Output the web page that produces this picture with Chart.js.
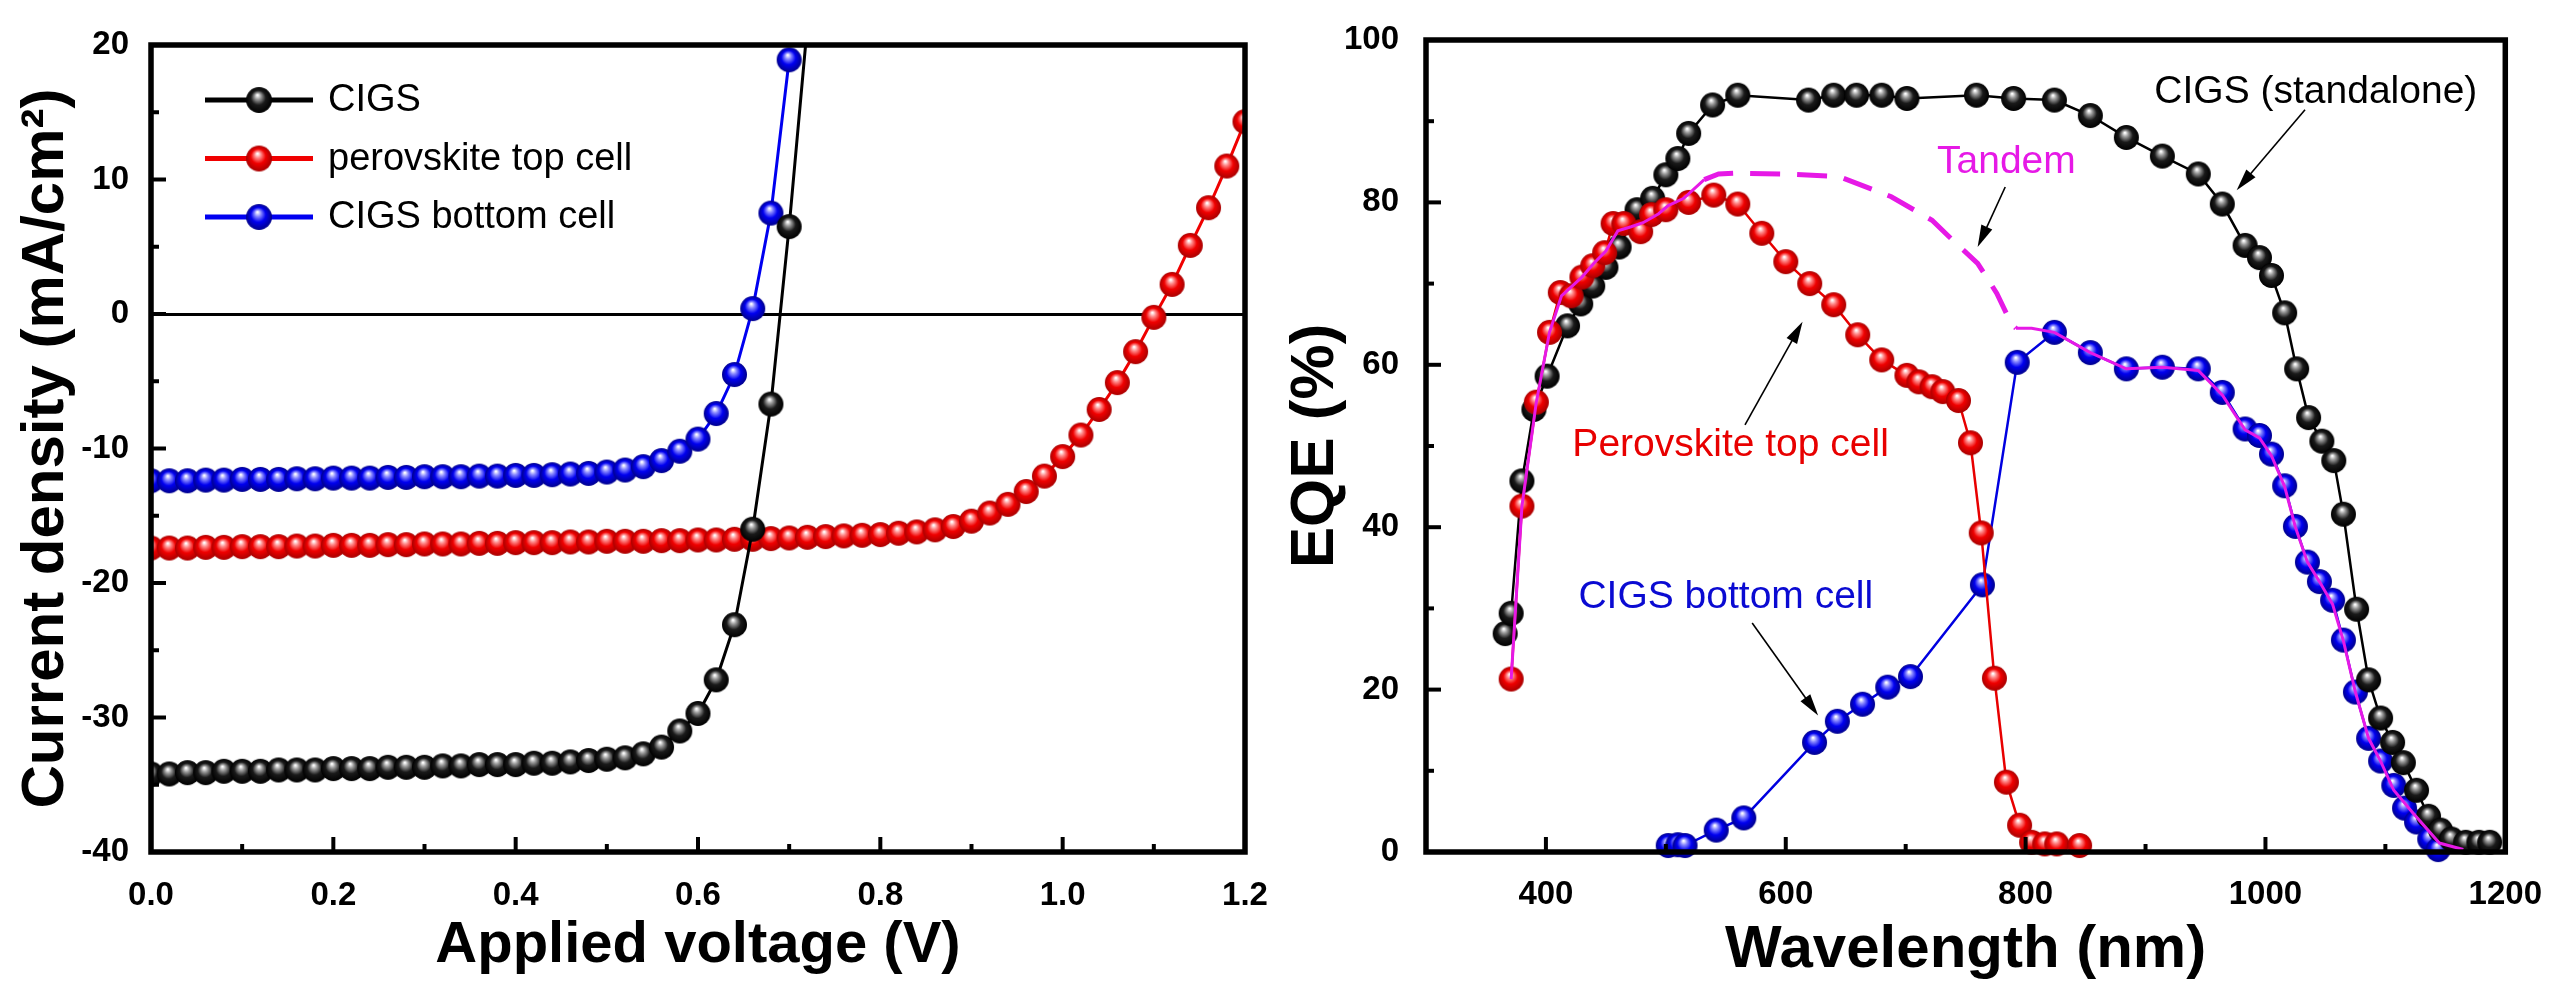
<!DOCTYPE html>
<html>
<head>
<meta charset="utf-8">
<script src="https://cdn.jsdelivr.net/npm/chart.js@4.4.1/dist/chart.umd.min.js"></script>
<style>
  html, body { margin: 0; padding: 0; background: #fff; }
  #wrap { position: relative; width: 2557px; height: 989px; }
  canvas { position: absolute; top: 0; }
</style>
</head>
<body>
<div id="wrap">
  <canvas id="jv" width="1290" height="989" style="left:0"></canvas>
  <canvas id="eqe" width="1287" height="989" style="left:1270px"></canvas>
</div>
<script>
// ---- J-V data (left panel) ----
const voltage = [0.00,0.02,0.04,0.06,0.08,0.10,0.12,0.14,0.16,0.18,0.20,0.22,0.24,0.26,0.28,0.30,0.32,0.34,0.36,0.38,
  0.40,0.42,0.44,0.46,0.48,0.50,0.52,0.54,0.56,0.58,0.60,0.62,0.64,0.66,0.68,0.70,0.72,0.74,0.76,0.78,
  0.80,0.82,0.84,0.86,0.88,0.90,0.92,0.94,0.96,0.98,1.00,1.02,1.04,1.06,1.08,1.10,1.12,1.14,1.16,1.18,1.20];
const jCIGS = [-34.2,-34.2,-34.1,-34.1,-34.0,-34.0,-34.0,-33.9,-33.9,-33.9,-33.8,-33.8,-33.8,-33.7,-33.7,-33.7,
  -33.6,-33.6,-33.5,-33.5,-33.5,-33.4,-33.4,-33.3,-33.2,-33.1,-33.0,-32.7,-32.2,-31.0,-29.7,-27.2,-23.1,-16.0,-6.7,6.5,21.5];
const jPerovskite = [-17.4,-17.4,-17.4,-17.35,-17.35,-17.3,-17.3,-17.3,-17.25,-17.25,
  -17.2,-17.2,-17.2,-17.15,-17.15,-17.1,-17.1,-17.1,-17.05,-17.05,
  -17.0,-17.0,-17.0,-16.95,-16.95,-16.9,-16.9,-16.9,-16.85,-16.85,
  -16.8,-16.8,-16.75,-16.75,-16.7,-16.65,-16.6,-16.55,-16.5,-16.45,
  -16.4,-16.3,-16.2,-16.05,-15.8,-15.4,-14.8,-14.15,-13.2,-12.05,
  -10.6,-9.0,-7.1,-5.1,-2.8,-0.25,2.2,5.1,7.9,11.0,14.3];
const jBottom = [-12.4,-12.4,-12.4,-12.35,-12.35,-12.3,-12.3,-12.3,-12.25,-12.25,
  -12.2,-12.2,-12.2,-12.15,-12.15,-12.1,-12.1,-12.1,-12.05,-12.05,
  -12.0,-12.0,-11.95,-11.9,-11.85,-11.75,-11.6,-11.35,-10.9,-10.2,-9.3,-7.4,-4.5,0.4,7.5,18.9];

const jvXTicks = [0,0.1,0.2,0.3,0.4,0.5,0.6,0.7,0.8,0.9,1.0,1.1,1.2];
const jvXMajor = [0,0.2,0.4,0.6,0.8,1.0,1.2];
const jvXLabels = ['0.0','0.2','0.4','0.6','0.8','1.0','1.2'];
const jvYTicks = [-40,-35,-30,-25,-20,-15,-10,-5,0,5,10,15,20];
const jvYMajor = [-40,-30,-20,-10,0,10,20];
const jvYLabels = ['-40','-30','-20','-10','0','10','20'];

// ---- EQE data (right panel) ----
const wlCIGS = [366,371,380,390,401,418,429,439,450,461,476,489,500,510,519,539,560,619,640,659,680,701,759,790,824,
  854,884,914,944,964,983,995,1005,1016,1026,1036,1047,1057,1065,1076,1086,1096,1106,1115,1126,1136,1146,1155,1167,1178,1187];
const eqeCIGS = [26.9,29.4,45.7,54.5,58.6,64.8,67.5,69.7,72.0,74.5,79.1,80.5,83.4,85.4,88.5,92.0,93.2,92.6,93.2,93.2,93.2,92.8,93.2,92.8,92.6,
  90.7,88.0,85.7,83.5,79.8,74.7,73.2,71.0,66.4,59.5,53.5,50.6,48.2,41.6,29.9,21.2,16.5,13.5,11.0,7.6,4.4,2.7,1.6,1.2,1.2,1.2];
const wlPerovskite = [371,380,392,403,412,421,430,439,449,456,465,479,488,500,519,540,560,580,600,620,640,660,680,701,711,
  722,731,744,754,763,774,784,795,805,816,826,845];
const eqePerovskite = [21.3,42.6,55.4,64.0,68.9,68.5,70.8,72.2,73.8,77.4,77.4,76.4,78.5,79.1,80.0,80.9,79.8,76.2,72.7,70.0,67.4,63.7,60.6,58.7,57.9,
  57.3,56.7,55.6,50.4,39.3,21.4,8.6,3.3,1.2,1.0,1.0,0.8];
const wlBottom = [502,510,516,542,565,624,643,664,685,704,764,793,824,854,884,914,944,964,983,995,1005,1016,1025,1035,1045,
  1056,1065,1075,1086,1096,1107,1116,1126,1137,1144];
const eqeBottom = [0.8,0.9,0.8,2.7,4.2,13.5,16.1,18.2,20.3,21.6,32.9,60.3,64.0,61.5,59.5,59.7,59.5,56.6,52.1,51.3,49.0,45.1,40.1,35.7,33.3,
  31.0,26.1,19.7,14.0,11.2,8.2,5.4,3.7,1.6,0.3];
const wlTandem = [371,380,392,403,413,430,440,450,460,471,481,494,502,515,532,544,560,600,644,674,688,722,736,760,776,
  788,792,805,824,854,884,914,944,964,983,995,1005,1016,1025,1035,1045,1056,1065,1075,1086,1096,1107,1123,1145,1165];
const eqeTandem = [21.3,42.6,55.4,64.0,68.5,70.8,72.5,74.0,76.5,77.0,77.5,78.6,79.6,80.5,82.8,83.5,83.6,83.5,83.2,81.5,80.7,77.8,75.8,72.5,68.8,
  65.1,64.5,64.5,64.0,61.5,59.5,59.7,59.3,56.3,52.0,51.0,48.8,45.0,40.0,35.7,33.3,30.5,26.0,19.7,14.0,11.2,7.6,4.8,1.1,0.3];

const eqeXTicks = [300,400,500,600,700,800,900,1000,1100,1200];
const eqeXMajor = [400,600,800,1000,1200];
const eqeXLabels = ['400','600','800','1000','1200'];
const eqeYTicks = [0,10,20,30,40,50,60,70,80,90,100];
const eqeYMajor = [0,20,40,60,80,100];
const eqeYLabels = ['0','20','40','60','80','100'];

const FONT = '"Liberation Sans", Arial, Helvetica, sans-serif';

const pts = (xs, ys) => ys.map((y, i) => ({ x: xs[i], y }));

function labelFor(majors, labels) {
  return v => {
    const i = majors.findIndex(m => Math.abs(m - v) < 1e-6);
    return i >= 0 ? labels[i] : '';
  };
}

// shaded "ball" markers like the original plot
function ball(r, light, mid, dark) {
  const s = Math.ceil(2 * r + 2);
  const c = document.createElement('canvas');
  c.width = s; c.height = s;
  const g = c.getContext('2d');
  const cx = s / 2, cy = s / 2;
  const grad = g.createRadialGradient(cx - r * 0.12, cy - r * 0.38, r * 0.04, cx, cy, r);
  grad.addColorStop(0, '#ffffff');
  grad.addColorStop(0.22, light);
  grad.addColorStop(0.55, mid);
  grad.addColorStop(1, dark);
  g.fillStyle = grad;
  g.beginPath();
  g.arc(cx, cy, r, 0, Math.PI * 2);
  g.fill();
  return c;
}

const R = 12.5;
const ballBlack = ball(R, '#9a9a9a', '#1a1a1a', '#000000');
const ballRed = ball(R, '#ff8a8a', '#f00000', '#a80000');
const ballBlue = ball(R, '#8a8aff', '#0000f0', '#00008c');

// frame + inward tick marks (bottom and left only)
const framePlugin = {
  id: 'frame',
  afterDraw(chart) {
    const { ctx, chartArea: a, scales: { x, y } } = chart;
    ctx.save();
    ctx.strokeStyle = '#000';
    ctx.lineWidth = 4;
    x.ticks.forEach(t => {
      const px = x.getPixelForValue(t.value);
      const len = t.label ? 15 : 8;
      ctx.beginPath(); ctx.moveTo(px, a.bottom); ctx.lineTo(px, a.bottom - len); ctx.stroke();
    });
    y.ticks.forEach(t => {
      const py = y.getPixelForValue(t.value);
      const len = t.label ? 15 : 8;
      ctx.beginPath(); ctx.moveTo(a.left, py); ctx.lineTo(a.left + len, py); ctx.stroke();
    });
    ctx.lineWidth = 5.5;
    ctx.strokeRect(a.left, a.top, a.right - a.left, a.bottom - a.top);
    ctx.restore();
  }
};

const jvLegendPlugin = {
  id: 'jvLegend',
  afterDraw(chart) {
    const { ctx, chartArea: a } = chart;
    ctx.save();
    ctx.font = '38px ' + FONT;
    ctx.textBaseline = 'middle';
    ctx.fillStyle = '#000';
    chart.data.datasets.forEach((ds, i) => {
      const yy = a.top + 55 + i * 58.5;
      ctx.strokeStyle = ds.borderColor;
      ctx.lineWidth = 5;
      ctx.beginPath(); ctx.moveTo(a.left + 54, yy); ctx.lineTo(a.left + 162, yy); ctx.stroke();
      ctx.drawImage(ds.pointStyle, a.left + 108 - 14, yy - 14, 28, 28);
      ctx.fillText(ds.label, a.left + 177, yy + 1);
    });
    ctx.restore();
  }
};

// text notes and arrows on the EQE panel (data coordinates)
const eqeNotes = [
  { text: 'CIGS (standalone)', color: '#000', x: 1042, y: 93.6 },
  { text: 'Tandem', color: '#e619e6', x: 784, y: 85.0 },
  { text: 'Perovskite top cell', color: '#e80000', x: 554, y: 50.1 },
  { text: 'CIGS bottom cell', color: '#0a0ad2', x: 550, y: 31.4 }
];
const eqeArrows = [
  { from: [1033, 91.4], to: [976, 81.5] },
  { from: [783, 81.9], to: [760, 74.5] },
  { from: [566, 52.6], to: [614, 65.3] },
  { from: [572, 28.2], to: [627, 16.8] }
];

const eqeNotesPlugin = {
  id: 'eqeNotes',
  afterDraw(chart) {
    const { ctx, scales: { x, y } } = chart;
    ctx.save();
    ctx.font = '39px ' + FONT;
    ctx.textAlign = 'center';
    ctx.textBaseline = 'middle';
    eqeNotes.forEach(n => {
      ctx.fillStyle = n.color;
      ctx.fillText(n.text, x.getPixelForValue(n.x), y.getPixelForValue(n.y));
    });
    ctx.strokeStyle = '#000';
    ctx.fillStyle = '#000';
    ctx.lineWidth = 1.6;
    eqeArrows.forEach(ar => {
      const x0 = x.getPixelForValue(ar.from[0]), y0 = y.getPixelForValue(ar.from[1]);
      const x1 = x.getPixelForValue(ar.to[0]), y1 = y.getPixelForValue(ar.to[1]);
      const ang = Math.atan2(y1 - y0, x1 - x0);
      const hl = 22, hw = 6;
      ctx.beginPath(); ctx.moveTo(x0, y0);
      ctx.lineTo(x1 - Math.cos(ang) * hl * 0.8, y1 - Math.sin(ang) * hl * 0.8); ctx.stroke();
      ctx.beginPath();
      ctx.moveTo(x1, y1);
      ctx.lineTo(x1 - Math.cos(ang) * hl + Math.sin(ang) * hw, y1 - Math.sin(ang) * hl - Math.cos(ang) * hw);
      ctx.lineTo(x1 - Math.cos(ang) * hl - Math.sin(ang) * hw, y1 - Math.sin(ang) * hl + Math.cos(ang) * hw);
      ctx.closePath(); ctx.fill();
    });
    ctx.restore();
  }
};

const tickFont = { family: FONT, size: 33, weight: 'bold' };
const titleFont = { family: FONT, size: 58, weight: 'bold' };

new Chart(document.getElementById('jv'), {
  type: 'line',
  data: {
    datasets: [
      { label: 'CIGS', data: pts(voltage, jCIGS), borderColor: '#000', borderWidth: 3,
        pointStyle: ballBlack, pointRadius: R },
      { label: 'perovskite top cell', data: pts(voltage, jPerovskite), borderColor: '#f00000', borderWidth: 3,
        pointStyle: ballRed, pointRadius: R },
      { label: 'CIGS bottom cell', data: pts(voltage, jBottom), borderColor: '#0000f0', borderWidth: 3,
        pointStyle: ballBlue, pointRadius: R },
    ],
  },
  options: {
    responsive: false,
    animation: false,
    events: [],
    layout: { padding: { top: 45, right: 45, left: 0, bottom: 0 } },
    plugins: { legend: { display: false }, tooltip: { enabled: false } },
    scales: {
      x: {
        type: 'linear', min: 0, max: 1.2,
        afterBuildTicks: s => { s.ticks = jvXTicks.map(v => ({ value: v })); },
        afterFit: s => { s.height = 137; },
        grid: { display: false },
        border: { display: false },
        ticks: { autoSkip: false, maxRotation: 0, padding: 16, color: '#000', font: tickFont,
          callback: labelFor(jvXMajor, jvXLabels) },
        title: { display: true, text: 'Applied voltage (V)', color: '#000', font: titleFont,
          padding: { top: 0, bottom: 8 } },
      },
      y: {
        type: 'linear', min: -40, max: 20,
        afterBuildTicks: s => { s.ticks = jvYTicks.map(v => ({ value: v })); },
        afterFit: s => { s.width = 151; },
        grid: { drawTicks: false, lineWidth: 3,
          color: c => (c.tick && c.tick.value === 0 ? '#000' : 'rgba(0,0,0,0)') },
        border: { display: false },
        ticks: { autoSkip: false, padding: 22, color: '#000', font: tickFont,
          callback: labelFor(jvYMajor, jvYLabels) },
        title: { display: true, text: 'Current density (mA/cm²)', color: '#000',
          font: { ...titleFont, size: 60 }, padding: { top: 10, bottom: 0 } },
      },
    },
  },
  plugins: [framePlugin, jvLegendPlugin],
});

new Chart(document.getElementById('eqe'), {
  type: 'line',
  data: {
    datasets: [
      { label: 'Tandem', data: pts(wlTandem, eqeTandem), borderColor: '#e619e6', borderWidth: 3,
        pointRadius: 0, clip: false,
        segment: {
          borderDash: c => (c.p0.parsed.x >= 530 && c.p1.parsed.x <= 795 ? [30, 17] : undefined),
          borderWidth: c => (c.p0.parsed.x >= 530 && c.p1.parsed.x <= 795 ? 5 : 3),
        } },
      { label: 'Perovskite top cell', data: pts(wlPerovskite, eqePerovskite), borderColor: '#e80000', borderWidth: 2.5,
        pointStyle: ballRed, pointRadius: R, clip: false },
      { label: 'CIGS (standalone)', data: pts(wlCIGS, eqeCIGS), borderColor: '#000', borderWidth: 2.5,
        pointStyle: ballBlack, pointRadius: R, clip: false },
      { label: 'CIGS bottom cell', data: pts(wlBottom, eqeBottom), borderColor: '#0000e0', borderWidth: 2.5,
        pointStyle: ballBlue, pointRadius: R, clip: false },
    ],
  },
  options: {
    responsive: false,
    animation: false,
    events: [],
    layout: { padding: { top: 40, right: 47, left: 0, bottom: 0 } },
    plugins: { legend: { display: false }, tooltip: { enabled: false } },
    scales: {
      x: {
        type: 'linear', min: 300, max: 1200,
        afterBuildTicks: s => { s.ticks = eqeXTicks.map(v => ({ value: v })); },
        afterFit: s => { s.height = 137; },
        grid: { display: false },
        border: { display: false },
        ticks: { autoSkip: false, maxRotation: 0, padding: 15, color: '#000', font: tickFont,
          callback: labelFor(eqeXMajor, eqeXLabels) },
        title: { display: true, text: 'Wavelength (nm)', color: '#000', font: { ...titleFont, size: 60 },
          padding: { top: 0, bottom: 3 } },
      },
      y: {
        type: 'linear', min: 0, max: 100,
        afterBuildTicks: s => { s.ticks = eqeYTicks.map(v => ({ value: v })); },
        afterFit: s => { s.width = 156; },
        grid: { display: false },
        border: { display: false },
        ticks: { autoSkip: false, padding: 19, color: '#000', font: tickFont,
          callback: labelFor(eqeYMajor, eqeYLabels) },
        title: { display: true, text: 'EQE (%)', color: '#000', font: { ...titleFont, size: 62 },
          padding: { top: 9, bottom: 0 } },
      },
    },
  },
  plugins: [framePlugin, eqeNotesPlugin],
});
</script>
</body>
</html>
